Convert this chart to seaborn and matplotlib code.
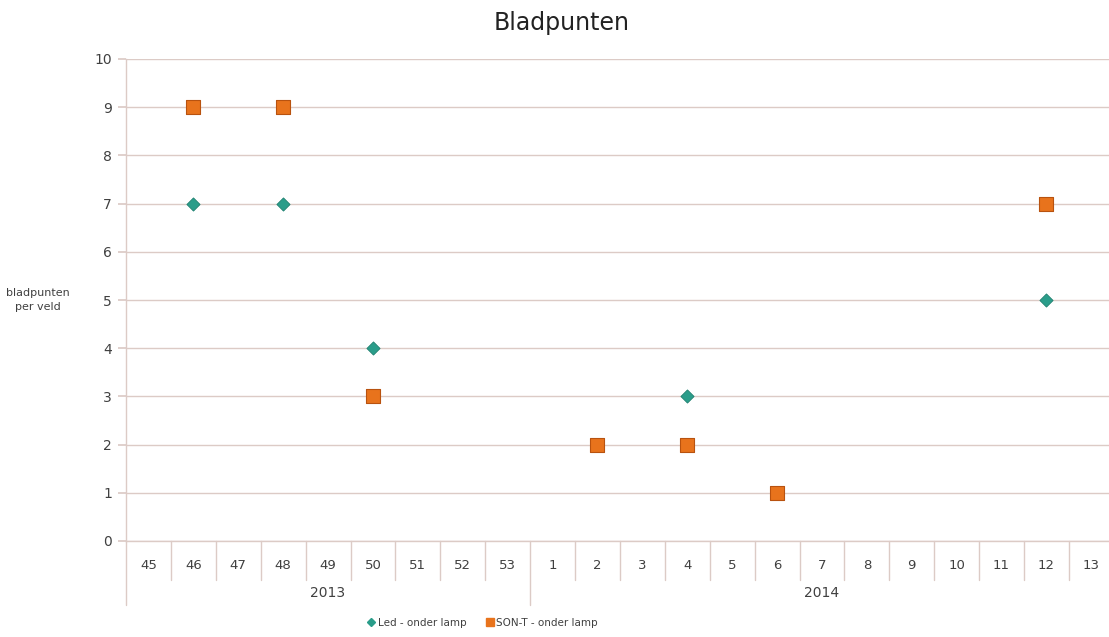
import matplotlib
matplotlib.use("Agg")
import matplotlib.pyplot as plt
import matplotlib.transforms as mtransforms
from matplotlib.lines import Line2D
from matplotlib import font_manager
import seaborn as sns
import pandas as pd

# ---- data ----
weeks = ['45', '46', '47', '48', '49', '50', '51', '52', '53',
         '1', '2', '3', '4', '5', '6', '7', '8', '9', '10', '11', '12', '13']
years = ['2013'] * 9 + ['2014'] * 13
year_labels = ['2013', '2014']

led_weeks = ['46', '48', '50', '4', '12']
led_vals = [7, 7, 4, 3, 5]
son_weeks = ['46', '48', '50', '2', '4', '6', '12']
son_vals = [9, 9, 3, 2, 2, 1, 7]

led_name = 'Led - onder lamp'
son_name = 'SON-T - onder lamp'
title = 'Bladpunten'
ylabel = 'bladpunten\nper veld'
yticks = list(range(0, 11))

# ---- build frame ----
df = pd.DataFrame({
    'week': led_weeks + son_weeks,
    'value': led_vals + son_vals,
    'series': [led_name] * len(led_weeks) + [son_name] * len(son_weeks),
})
df['pos'] = df['week'].map({w: i for i, w in enumerate(weeks)})

sns.set_theme(style='white')
plt.rcParams['font.family'] = ['DejaVu Sans']

installed = {f.name for f in font_manager.fontManager.ttflist}
title_family = 'Liberation Sans Narrow' if 'Liberation Sans Narrow' in installed else 'DejaVu Sans'

W, H = 1109, 637
fig = plt.figure(figsize=(W / 100, H / 100), dpi=100)
left_px, right_px, top_px, bot_px = 126, 126 + 22 * 44.9, 59, 541
ax = fig.add_axes([left_px / W, 1 - bot_px / H, (right_px - left_px) / W, (bot_px - top_px) / H])

led_color = '#2a9d8a'
son_color = '#e8731c'
grid_color = '#dccbc6'
text_color = '#404040'

sns.scatterplot(data=df[df.series == led_name], x='pos', y='value', ax=ax,
                marker='D', s=45, color=led_color, edgecolor='#1f8070', linewidth=0.6,
                zorder=3, legend=False)
sns.scatterplot(data=df[df.series == son_name], x='pos', y='value', ax=ax,
                marker='s', s=105, color=son_color, edgecolor='#b8520f', linewidth=0.8,
                zorder=4, legend=False)

ax.set_xlim(-0.5, len(weeks) - 0.5)
ax.set_ylim(0, 10)
ax.set_yticks(yticks)
ax.set_yticklabels([str(t) for t in yticks], fontsize=10, color=text_color)
ax.yaxis.grid(True, color=grid_color, linewidth=1.0)
ax.set_axisbelow(True)
ax.set_xlabel('')
ax.set_ylabel('')

for s in ['top', 'right']:
    ax.spines[s].set_visible(False)
for s in ['left', 'bottom']:
    ax.spines[s].set_color(grid_color)
    ax.spines[s].set_linewidth(1.0)

ax.tick_params(axis='y', which='major', length=6, color=grid_color, pad=4, left=True)
ax.set_xticks(range(len(weeks)))
ax.set_xticklabels(weeks, fontsize=9.5, color=text_color)
ax.tick_params(axis='x', which='major', length=0, pad=13)

trans = mtransforms.blended_transform_factory(ax.transData, ax.transAxes)
h = bot_px - top_px
short = -39 / h
long_ = -64 / h
# separators between categories
for i in range(len(weeks) + 1):
    x = i - 0.5
    boundary = (i == 0) or (i < len(weeks) and years[i] != years[i - 1])
    ax.plot([x, x], [0, long_ if boundary else short], transform=trans,
            color=grid_color, linewidth=1.0, clip_on=False)

# year labels
for y in year_labels:
    idx = [i for i, v in enumerate(years) if v == y]
    ax.text((idx[0] + idx[-1]) / 2, -52 / h, y, transform=trans, ha='center', va='center',
            fontsize=10, color=text_color)

fig.text(38 / W, 1 - 300 / H, ylabel, ha='center', va='center', fontsize=8,
         color=text_color, linespacing=1.5)

fig.text(562 / W, 1 - 23 / H, title, ha='center', va='center', fontsize=17,
         color='#222222', family=title_family)

handles = [
    Line2D([], [], marker='D', linestyle='none', color=led_color, markersize=4, label=led_name),
    Line2D([], [], marker='s', linestyle='none', color=son_color, markersize=6, label=son_name),
]
fig.legend(handles=handles, loc='center', bbox_to_anchor=(482 / W, 1 - 623 / H), ncol=2,
           frameon=False, fontsize=7.5, handletextpad=0.1, columnspacing=1.8,
           labelcolor=text_color, handlelength=1.0)

fig.savefig('out.png', dpi=100)
